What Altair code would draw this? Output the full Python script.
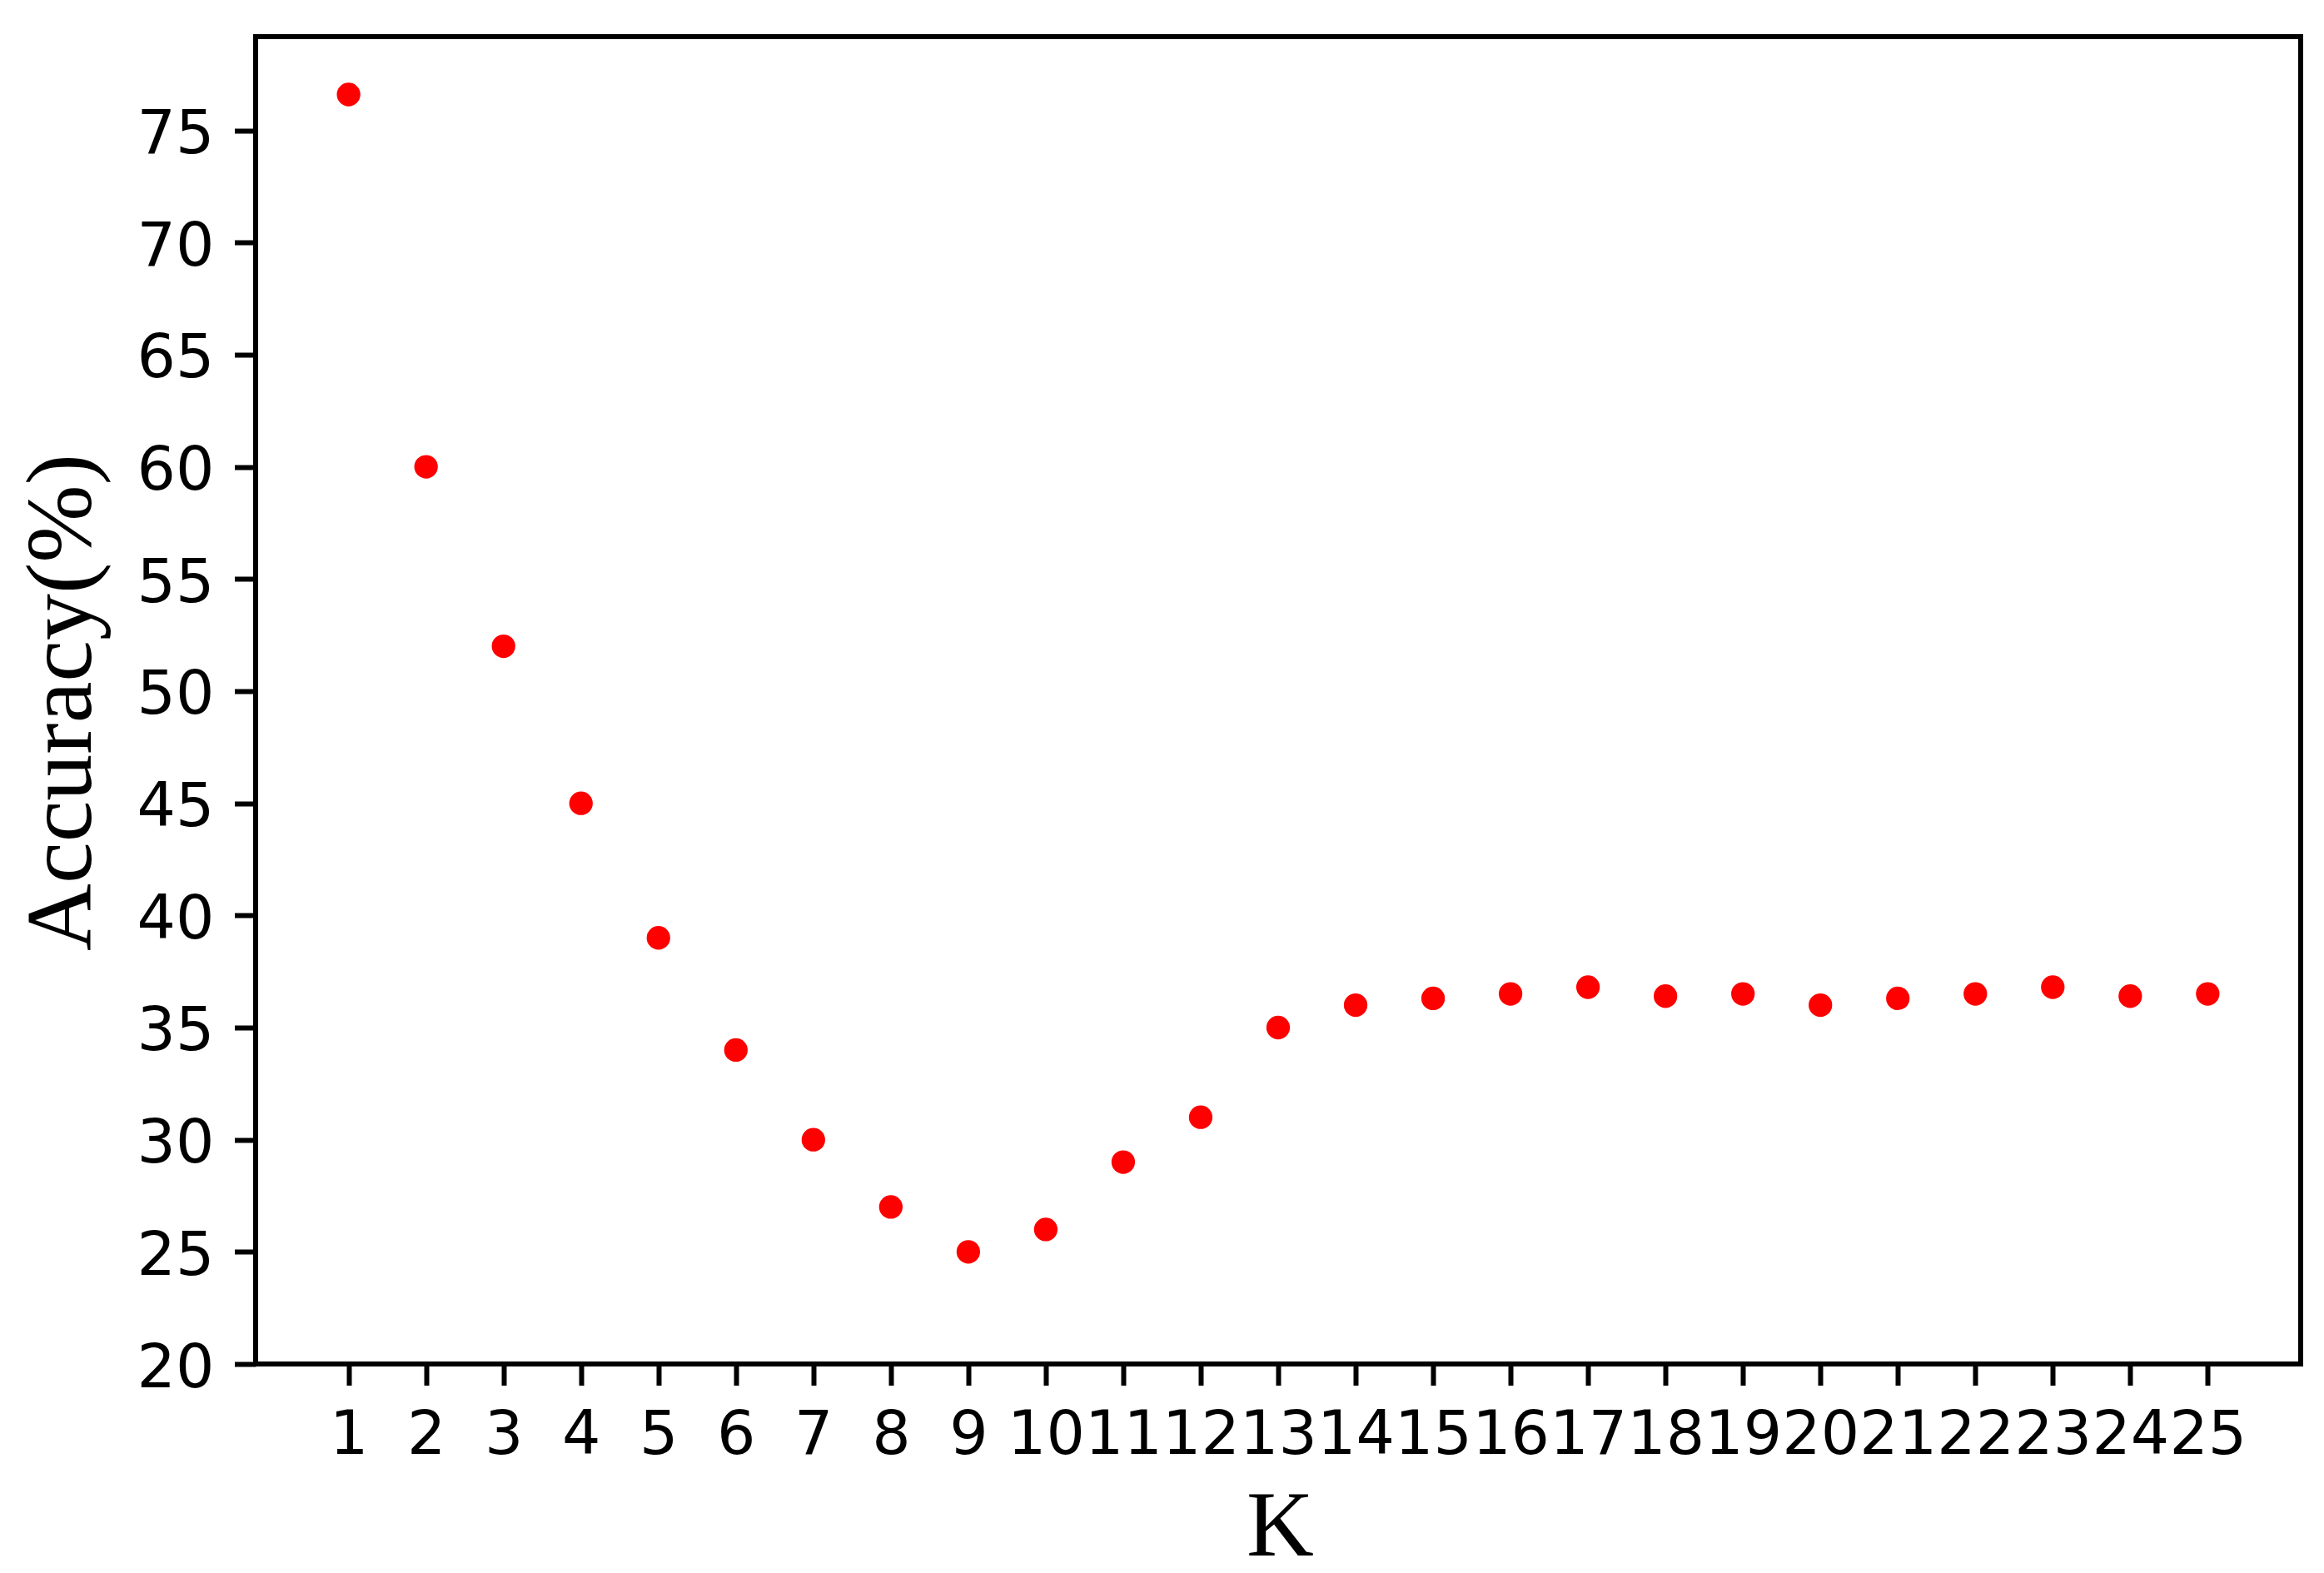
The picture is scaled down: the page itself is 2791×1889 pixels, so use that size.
import altair as alt
import pandas as pd

k_values = list(range(1, 26))
accuracy = [76.6, 60.0, 52.0, 45.0, 39.0, 34.0, 30.0, 27.0, 25.0, 26.0,
            29.0, 31.0, 35.0, 36.0, 36.3, 36.5, 36.8, 36.4, 36.5, 36.0,
            36.3, 36.5, 36.8, 36.4, 36.5]
y_ticks = [20, 25, 30, 35, 40, 45, 50, 55, 60, 65, 70, 75]

df = pd.DataFrame({"K": k_values, "Accuracy": accuracy})

PLOT_W = 2456
PLOT_H = 1594

chart = (
    alt.Chart(df)
    .mark_circle(size=800, color="#ff0000", opacity=1)
    .encode(
        x=alt.X(
            "K:Q",
            scale=alt.Scale(domain=[-0.2, 26.2], nice=False, zero=False),
            axis=alt.Axis(
                values=k_values,
                format="d",
                title="K",
                titleFont="Liberation Serif",
                titleFontSize=112,
                titleFontWeight="normal",
                titleColor="black",
                titleAlign="center",
                titleBaseline="alphabetic",
                titleX=1230,
                titleY=229,
                labelFont="DejaVu Sans",
                labelFontSize=73,
                labelColor="black",
                labelPadding=24,
                labelOverlap=False,
                labelFlush=False,
                labelBound=False,
                tickSize=25.5,
                tickWidth=6,
                tickColor="black",
                domain=False,
                grid=False,
            ),
        ),
        y=alt.Y(
            "Accuracy:Q",
            scale=alt.Scale(domain=[20, 79.18], nice=False, zero=False),
            axis=alt.Axis(
                values=y_ticks,
                format="d",
                title="Accuracy(%)",
                titleFont="Liberation Serif",
                titleFontSize=112,
                titleFontWeight="normal",
                titleColor="black",
                titleAngle=270,
                titleAlign="center",
                titleBaseline="alphabetic",
                titleX=-199,
                titleY=799,
                labelFont="DejaVu Sans",
                labelFontSize=73,
                labelColor="black",
                labelPadding=24.5,
                labelOffset=5,
                labelOverlap=False,
                labelFlush=False,
                labelBound=False,
                tickSize=25.5,
                tickWidth=6,
                tickColor="black",
                domain=False,
                grid=False,
            ),
        ),
    )
    .properties(
        width=PLOT_W,
        height=PLOT_H,
        autosize=alt.AutoSizeParams(type="none"),
        padding={"left": 299, "top": 36, "right": 20, "bottom": 240},
        background="white",
    )
    .configure_view(stroke="black", strokeWidth=6)
)

chart.save("out.html", embed_options={"renderer": "svg", "actions": False})
